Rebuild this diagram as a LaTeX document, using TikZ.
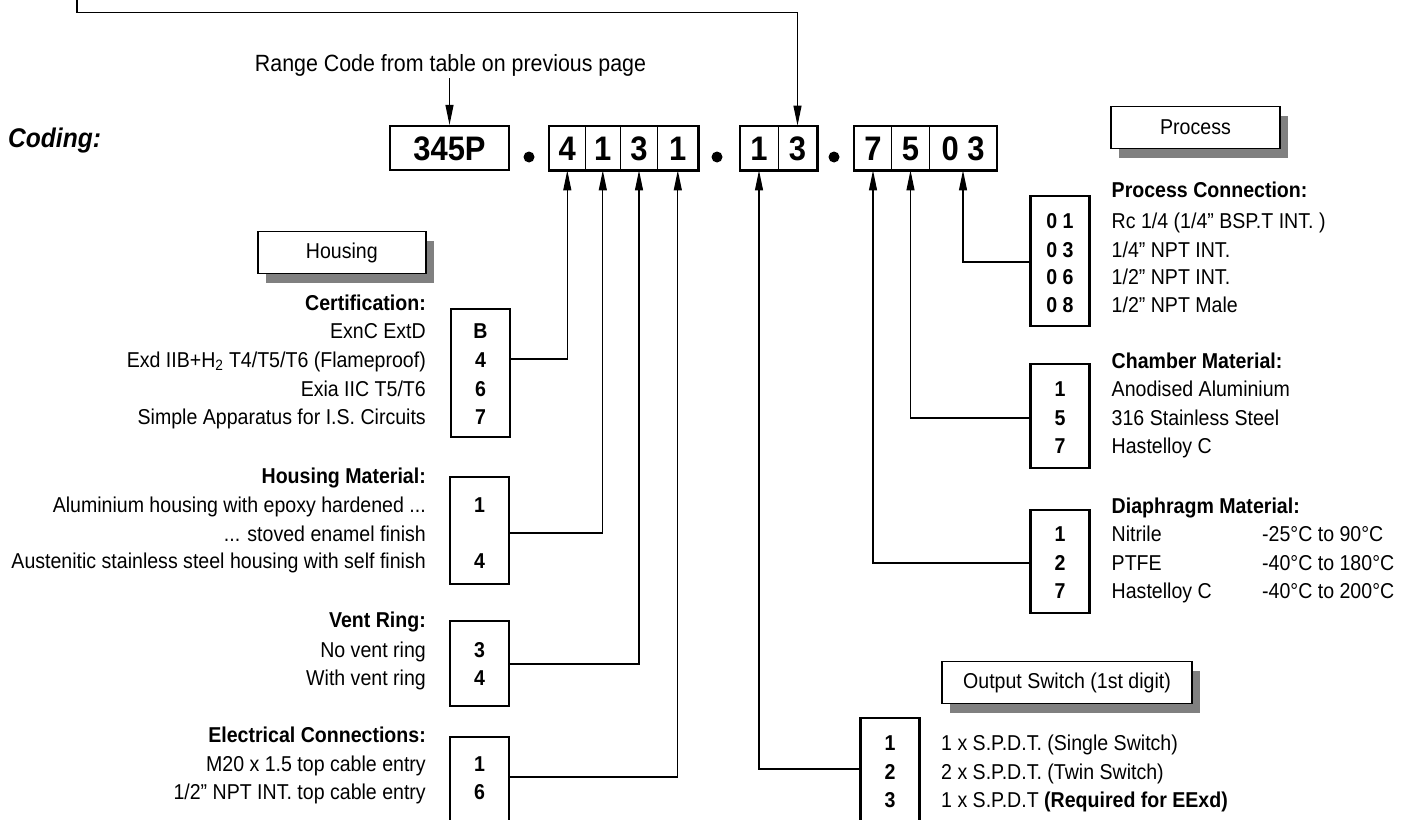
\documentclass[tikz,border=0pt]{standalone}
\usepackage{fontspec}
\setmainfont{Liberation Sans}[FakeStretch=0.91]
\usetikzlibrary{arrows.meta,shadows}

\tikzset{
    arr/.style={draw,line width=1.1pt,-{Triangle[length=20pt,width=8pt]}},
    cell/.style={draw,line width=0.8pt,minimum height=44pt,inner sep=0pt,
        text height=24pt,text depth=0pt,font=\fontsize{34}{34}\selectfont\bfseries},
    codebox/.style={draw,line width=2.2pt},
    optbox/.style={draw,line width=2.2pt,minimum width=59pt,inner sep=0pt},
    tag/.style={draw,line width=1.5pt,fill=white,inner sep=0pt,minimum height=42pt,
        font=\fontsize{21.5}{24}\selectfont,
        drop shadow={shadow xshift=8pt,shadow yshift=-9pt,fill=black!50,opacity=1}},
}

\begin{document}
\begin{tikzpicture}[x=1pt,y=-1pt]
    \useasboundingbox (0,0) rectangle (1413,819);
    \clip (0,0) rectangle (1413,819);
    % code row
    \node[cell,minimum width=119pt,line width=2.2pt] (c345P) at (449.5,148) {345P};
    \begin{scope}[every node/.style={cell}]
        \node[minimum width=35.4pt] (c4)  at (567.3,148) {4};
        \node[minimum width=35.5pt] (c1a) at (602.8,148) {1};
        \node[minimum width=37pt]   (c3a) at (639,148) {3};
        \node[minimum width=40.4pt] (c1b) at (677.8,148) {1};
        \node[minimum width=38pt]   (c1c) at (759,148) {1};
        \node[minimum width=39pt]   (c3b) at (797.5,148) {3};
        \node[minimum width=37pt]   (c7)  at (873,148) {7};
        \node[minimum width=38pt]   (c5)  at (910.5,148) {5};
        \node[minimum width=67pt]   (c03) at (963,148) {0 3};
    \end{scope}
    \draw[codebox] (c4.north west) rectangle (c1b.south east);
    \draw[codebox] (c1c.north west) rectangle (c3b.south east);
    \draw[codebox] (c7.north west) rectangle (c03.south east);
    \begin{scope}[every node/.style={circle,fill,inner sep=0pt,minimum size=11pt}]
        \node (dot1) at (529,157) {};
        \node (dot2) at (717,157) {};
        \node (dot3) at (834,157) {};
    \end{scope}
    \node[anchor=base west,inner sep=0pt,font=\fontsize{27}{27}\selectfont\bfseries\itshape] (coding) at (8,147) {Coding:};
    \node[anchor=base,inner sep=0pt,font=\fontsize{23.5}{26}\selectfont] (range) at (450.5,71) {Range Code from table on previous page};
    \coordinate (topin) at (77,-2);
    \coordinate (topbend) at (c3b.north |- 0,12.7);

    % group tags
    \node[tag,minimum width=168pt] (tHousing) at (341.8,252.5) {Housing};
    \node[tag,minimum width=169pt] (tProcess) at (1195.5,127.5) {Process};
    \node[tag,minimum width=250pt] (tOutput) at (1067,682.5) {Output Switch (1st digit)};

    % option boxes
    \node[optbox,minimum height=128pt] (bCert) at (480.5,373) {};
    \node[optbox,minimum height=107pt] (bMat)  at (479.5,530.5) {};
    \node[optbox,minimum height=85pt]  (bVent) at (479.5,663.5) {};
    \node[optbox,minimum height=103pt] (bElec) at (479.5,788.5) {};
    \node[optbox,minimum height=130pt] (bProc) at (1060,261) {};
    \node[optbox,minimum height=104pt] (bCham) at (1060,416) {};
    \node[optbox,minimum height=103pt] (bDia)  at (1060,561.5) {};
    \node[optbox,minimum height=122pt] (bOut)  at (890,779) {};

    % housing texts
    \begin{scope}[every node/.style={anchor=base east,inner sep=0pt,font=\fontsize{21.5}{24}\selectfont}]
        \node[font=\fontsize{21.5}{24}\selectfont\bfseries] (hCert) at (426,310) {Certification:};
        \node (cert1) at (426,338) {ExnC ExtD};
        \node (cert2) at (426,367) {Exd IIB+H\textsubscript{2} T4/T5/T6 (Flameproof)};
        \node (cert3) at (426,396) {Exia IIC T5/T6};
        \node (cert4) at (426,424) {Simple Apparatus for I.S. Circuits};
        \node[font=\fontsize{21.5}{24}\selectfont\bfseries] (hMat) at (426,483) {Housing Material:};
        \node (mat1) at (426,512) {Aluminium housing with epoxy hardened ...};
        \node (mat2) at (426,541) {... stoved enamel finish};
        \node (mat3) at (426,568) {Austenitic stainless steel housing with self finish};
        \node[font=\fontsize{21.5}{24}\selectfont\bfseries] (hVent) at (426,627) {Vent Ring:};
        \node (vent1) at (426,657) {No vent ring};
        \node (vent2) at (426,685) {With vent ring};
        \node[font=\fontsize{21.5}{24}\selectfont\bfseries] (hElec) at (426,742) {Electrical Connections:};
        \node (elec1) at (426,771) {M20 x 1.5 top cable entry};
        \node (elec2) at (426,799) {1/2” NPT INT. top cable entry};
    \end{scope}

    % process and output texts
    \begin{scope}[every node/.style={anchor=base west,inner sep=0pt,font=\fontsize{21.5}{24}\selectfont}]
        \node[font=\fontsize{21.5}{24}\selectfont\bfseries] (hProc) at (1111.5,197) {Process Connection:};
        \node (proc1) at (1111.5,228) {Rc 1/4 (1/4” BSP.T INT. )};
        \node (proc2) at (1111.5,257) {1/4” NPT INT.};
        \node (proc3) at (1111.5,284) {1/2” NPT INT.};
        \node (proc4) at (1111.5,312) {1/2” NPT Male};
        \node[font=\fontsize{21.5}{24}\selectfont\bfseries] (hCham) at (1111.5,368) {Chamber Material:};
        \node (cham1) at (1111.5,396) {Anodised Aluminium};
        \node (cham2) at (1111.5,425) {316 Stainless Steel};
        \node (cham3) at (1111.5,453) {Hastelloy C};
        \node[font=\fontsize{21.5}{24}\selectfont\bfseries] (hDia) at (1111.5,513) {Diaphragm Material:};
        \node (dia1) at (1111.5,541) {Nitrile};
        \node (dia2) at (1111.5,570) {PTFE};
        \node (dia3) at (1111.5,598) {Hastelloy C};
        \node (temp1) at (1262,541) {-25°C to 90°C};
        \node (temp2) at (1262,570) {-40°C to 180°C};
        \node (temp3) at (1262,598) {-40°C to 200°C};
        \node (out1) at (941,750) {1 x S.P.D.T. (Single Switch)};
        \node (out2) at (941,779) {2 x S.P.D.T. (Twin Switch)};
        \node (out3) at (941,807) {1 x S.P.D.T \textbf{(Required for EExd)}};
    \end{scope}

    % option digits
    \begin{scope}[every node/.style={anchor=base,inner sep=0pt,font=\fontsize{21.5}{24}\selectfont\bfseries}]
        \node (dCert1) at (480.5,338) {B};
        \node (dCert2) at (480.5,367) {4};
        \node (dCert3) at (480.5,396) {6};
        \node (dCert4) at (480.5,424) {7};
        \node (dMat1) at (479.5,512) {1};
        \node (dMat2) at (479.5,568) {4};
        \node (dVent1) at (479.5,657) {3};
        \node (dVent2) at (479.5,685) {4};
        \node (dElec1) at (479.5,771) {1};
        \node (dElec2) at (479.5,799) {6};
        \node (dProc1) at (1060,228) {0 1};
        \node (dProc2) at (1060,257) {0 3};
        \node (dProc3) at (1060,284) {0 6};
        \node (dProc4) at (1060,312) {0 8};
        \node (dCham1) at (1060,396) {1};
        \node (dCham2) at (1060,425) {5};
        \node (dCham3) at (1060,453) {7};
        \node (dDia1) at (1060,541) {1};
        \node (dDia2) at (1060,570) {2};
        \node (dDia3) at (1060,598) {7};
        \node (dOut1) at (890,750) {1};
        \node (dOut2) at (890,779) {2};
        \node (dOut3) at (890,807) {3};
    \end{scope}

    % connectors
    \begin{scope}[every path/.style={arr}]
        \path (topin) |- (topbend) -- (c3b.north);
        \path (c345P.north |- range.south) ++(0,2) -- (c345P.north);
        \path (bCert.east |- 0,359) -| (c4.south);
        \path (bMat.east |- 0,533) -| (c1a.south);
        \path (bVent.east |- 0,664) -| (c3a.south);
        \path (bElec.east |- 0,777) -| (c1b.south);
        \path (bOut.west |- 0,769) -| (c1c.south);
        \path (bDia.west |- 0,563) -| (c7.south);
        \path (bCham.west |- 0,418) -| (c5.south);
        \path (bProc.west |- 0,262) -| (c03.south);
    \end{scope}
\end{tikzpicture}
\end{document}
